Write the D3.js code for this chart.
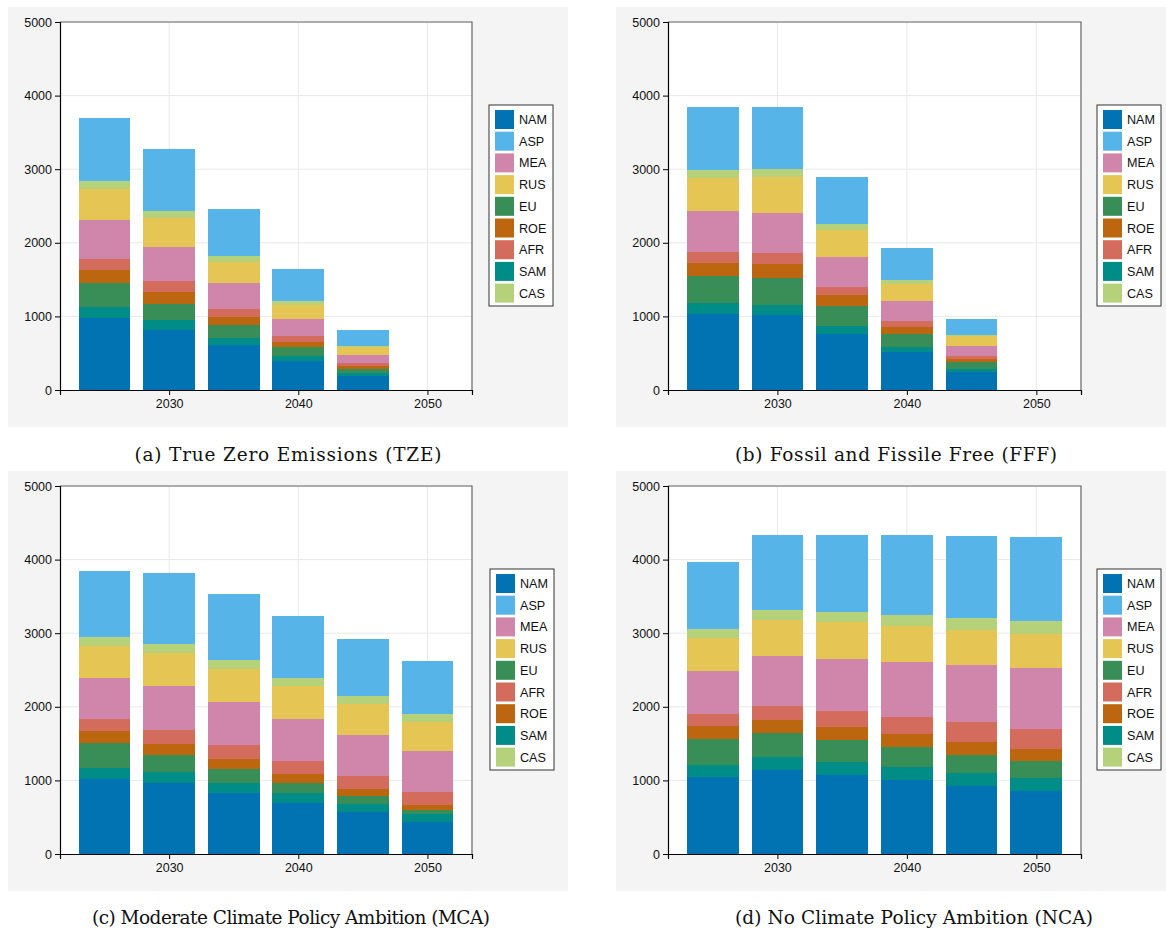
<!DOCTYPE html>
<html>
<head>
<meta charset="utf-8">
<script src="https://cdn.jsdelivr.net/npm/d3@7/dist/d3.min.js"></script>
<style>
  html, body { margin: 0; padding: 0; background: #ffffff; }
  svg { display: block; }
  .tick text { font-family: "Liberation Sans", Arial, sans-serif; }
</style>
</head>
<body>
<svg id="chart" width="1166" height="932"></svg>
<script>
// Years on the x axis
const years = [2025, 2030, 2035, 2040, 2045, 2050];
const yTicks = [0, 1000, 2000, 3000, 4000, 5000];
const xTicks = [2030, 2040, 2050];

// Stacking order, bottom to top
const stackOrder = ["NAM", "SAM", "EU", "ROE", "AFR", "MEA", "RUS", "CAS", "ASP"];

// Legend orders
const legendOrderAB = ["NAM", "ASP", "MEA", "RUS", "EU", "ROE", "AFR", "SAM", "CAS"];
const legendOrderCD = ["NAM", "ASP", "MEA", "RUS", "EU", "AFR", "ROE", "SAM", "CAS"];

// Region colours
const regionColors = {
  NAM: "#0173b2", ASP: "#56b4e9", MEA: "#d086aa", RUS: "#e5c654", EU: "#388e56",
  ROE: "#bc6610", AFR: "#d36c5c", SAM: "#008c87", CAS: "#b5d179"
};

// Scenario values per region, one entry per year
const tzeValues = {
  NAM: [983, 820, 611, 394, 190, 0],
  SAM: [145, 131, 100, 68, 41, 0],
  EU:  [326, 222, 172, 122, 54, 0],
  ROE: [176, 159, 109, 68, 41, 0],
  AFR: [150, 149, 109, 82, 41, 0],
  MEA: [530, 462, 353, 231, 109, 0],
  RUS: [421, 398, 285, 190, 108, 0],
  CAS: [109, 91, 82, 54, 14, 0],
  ASP: [856, 842, 638, 435, 217, 0]
};
const fffValues = {
  NAM: [1033, 1019, 765, 521, 249, 0],
  SAM: [149, 136, 105, 63, 36, 0],
  EU:  [371, 371, 276, 181, 100, 0],
  ROE: [173, 190, 145, 91, 36, 0],
  AFR: [149, 145, 108, 82, 45, 0],
  MEA: [557, 544, 408, 271, 132, 0],
  RUS: [453, 489, 371, 236, 136, 0],
  CAS: [104, 109, 77, 50, 13, 0],
  ASP: [856, 842, 639, 434, 218, 0]
};
const mcaValues = {
  NAM: [1019, 965, 829, 693, 571, 435],
  SAM: [149, 149, 136, 136, 108, 108],
  EU:  [340, 231, 190, 136, 109, 55],
  ROE: [163, 150, 136, 122, 95, 68],
  AFR: [163, 190, 190, 177, 177, 176],
  MEA: [557, 598, 584, 570, 557, 557],
  RUS: [435, 448, 449, 449, 421, 394],
  CAS: [122, 122, 122, 108, 109, 109],
  ASP: [897, 965, 897, 843, 774, 720]
};
const ncaValues = {
  NAM: [1046, 1146, 1073, 1005, 928, 856],
  SAM: [163, 172, 177, 177, 173, 177],
  EU:  [354, 326, 299, 272, 244, 231],
  ROE: [176, 177, 177, 176, 177, 163],
  AFR: [163, 190, 217, 231, 271, 271],
  MEA: [584, 679, 706, 748, 775, 829],
  RUS: [449, 489, 503, 489, 475, 462],
  CAS: [122, 136, 136, 149, 163, 177],
  ASP: [910, 1019, 1046, 1087, 1115, 1141]
};

const captions = [
  "(a) True Zero Emissions (TZE)",
  "(b) Fossil and Fissile Free (FFF)",
  "(c) Moderate Climate Policy Ambition (MCA)",
  "(d) No Climate Policy Ambition (NCA)"
];

// Panel layout
const panels = [
  { values: tzeValues, legend: legendOrderAB, bg: [8, 7, 560, 420],   ax: [60, 472, 22, 390],   lg: [489, 105],  cap: [288, 461, 307], caption: captions[0] },
  { values: fffValues, legend: legendOrderAB, bg: [616, 7, 550, 420], ax: [668, 1081, 22, 390], lg: [1097, 105], cap: [896, 461, 322], caption: captions[1] },
  { values: mcaValues, legend: legendOrderCD, bg: [8, 471, 560, 420], ax: [60, 472, 486, 854], lg: [490, 569],  cap: [291, 924, 398], caption: captions[2] },
  { values: ncaValues, legend: legendOrderCD, bg: [616, 471, 550, 420], ax: [668, 1081, 486, 854], lg: [1097, 569], cap: [914, 924, 358], caption: captions[3] }
];

const svg = d3.select("#chart");
const barWidthYears = 4;

panels.forEach(p => {
  const g = svg.append("g");
  const [x0, x1, yTop, yBot] = p.ax;

  // grey figure background
  g.append("rect")
    .attr("x", p.bg[0]).attr("y", p.bg[1])
    .attr("width", p.bg[2]).attr("height", p.bg[3])
    .attr("fill", "#f4f4f4");

  // axis area
  g.append("rect")
    .attr("x", x0).attr("y", yTop)
    .attr("width", x1 - x0).attr("height", yBot - yTop)
    .attr("fill", "#ffffff");

  const x = d3.scaleLinear().domain([2021.55, 2053.45]).range([x0, x1]);
  const y = d3.scaleLinear().domain([0, 5000]).range([yBot, yTop]);

  // grid lines
  g.append("g").selectAll("line.gy").data(yTicks.slice(1)).join("line")
    .attr("x1", x0).attr("x2", x1)
    .attr("y1", d => y(d)).attr("y2", d => y(d))
    .attr("stroke", "#e8e8e8").attr("stroke-width", 1);
  g.append("g").selectAll("line.gx").data(xTicks).join("line")
    .attr("x1", d => x(d)).attr("x2", d => x(d))
    .attr("y1", yTop).attr("y2", yBot)
    .attr("stroke", "#e8e8e8").attr("stroke-width", 1);

  // stacked bars
  const rows = years.map((yr, i) => {
    const r = { year: yr };
    stackOrder.forEach(k => { r[k] = p.values[k][i]; });
    return r;
  });
  const series = d3.stack().keys(stackOrder)(rows);
  g.append("g").attr("shape-rendering", "crispEdges")
    .selectAll("g").data(series).join("g")
    .attr("fill", s => regionColors[s.key])
    .selectAll("rect").data(s => s.filter(d => d[1] - d[0] > 0)).join("rect")
    .attr("x", d => x(d.data.year - barWidthYears / 2))
    .attr("width", d => x(d.data.year + barWidthYears / 2) - x(d.data.year - barWidthYears / 2))
    .attr("y", d => y(d[1]))
    .attr("height", d => y(d[0]) - y(d[1]));

  // top and right spines
  g.append("path")
    .attr("d", `M${x0},${yTop}H${x1}V${yBot}`)
    .attr("fill", "none").attr("stroke", "#666666").attr("stroke-width", 1.2);

  // axes
  const yAxis = d3.axisLeft(y).tickValues(yTicks).tickFormat(d3.format("d")).tickSize(5).tickPadding(3);
  const xAxis = d3.axisBottom(x).tickValues(xTicks).tickFormat(d3.format("d")).tickSize(5).tickPadding(4);

  const ya = g.append("g").attr("transform", `translate(${x0},0)`).call(yAxis);
  const xa = g.append("g").attr("transform", `translate(0,${yBot})`).call(xAxis);
  [ya, xa].forEach(a => {
    a.select(".domain").attr("stroke", "#000").attr("stroke-width", 1.2);
    a.selectAll(".tick line").attr("stroke", "#000");
    a.selectAll(".tick text").attr("fill", "#111").attr("font-size", 12.5);
  });

  // legend
  const [lx, ly] = p.lg;
  const lw = 64, lh = 201, step = 21.7;
  const lg = g.append("g").attr("transform", `translate(${lx},${ly})`);
  lg.append("rect").attr("width", lw).attr("height", lh)
    .attr("fill", "#ffffff").attr("stroke", "#333333").attr("stroke-width", 1);
  const items = lg.selectAll("g.item").data(p.legend).join("g")
    .attr("transform", (d, i) => `translate(6,${5 + i * step})`);
  items.append("rect").attr("width", 19).attr("height", 19)
    .attr("fill", d => regionColors[d]);
  items.append("text").attr("x", 24).attr("y", 14)
    .attr("font-family", "Liberation Sans, Arial, sans-serif")
    .attr("font-size", 12.6).attr("fill", "#111")
    .text(d => d);

  // caption
  svg.append("text")
    .attr("x", p.cap[0]).attr("y", p.cap[1])
    .attr("text-anchor", "middle")
    .attr("font-family", "DejaVu Serif, serif")
    .attr("font-size", 18.5).attr("fill", "#111")
    .attr("textLength", p.cap[2])
    .attr("lengthAdjust", "spacing")
    .text(p.caption);
});
</script>
</body>
</html>
